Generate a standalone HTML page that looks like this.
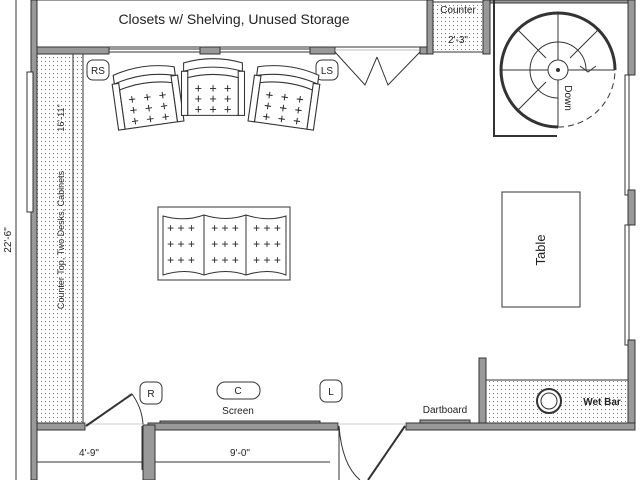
<!DOCTYPE html>
<html><head><style>body{margin:0;background:#fff}svg{display:block}text{font-family:"Liberation Sans",sans-serif;fill:#222}</style></head><body>
<svg width="640" height="480" viewBox="0 0 640 480" xmlns="http://www.w3.org/2000/svg">
<defs>
<pattern id="dots" width="4" height="4" patternUnits="userSpaceOnUse"><rect width="4" height="4" fill="#fff"/><rect x="1" y="1" width="1" height="1" fill="#777"/></pattern>
<g id="chair">
<path d="M-28,-22 Q0,-30 28,-22 L28,-14 Q0,-22 -28,-14Z" fill="#fff" stroke="#333"/>
<rect x="-30" y="-14" width="6" height="42" fill="#fff" stroke="#333"/>
<rect x="24" y="-14" width="6" height="42" fill="#fff" stroke="#333"/>
<path d="M-24,-8 Q0,-14 24,-8 L24,28 L-24,28Z" fill="#fff" stroke="#333"/>
<g font-size="12" text-anchor="middle">
<text x="-14" y="6">+</text><text x="0" y="6">+</text><text x="14" y="6">+</text>
<text x="-14" y="16">+</text><text x="0" y="16">+</text><text x="14" y="16">+</text>
<text x="-14" y="26">+</text><text x="0" y="26">+</text><text x="14" y="26">+</text>
</g>
</g>
</defs>
<g stroke="#333" stroke-width="1">
<line x1="16" y1="0" x2="16" y2="480"/>
<rect x="31" y="0" width="6" height="480" fill="#999"/>
<rect x="37" y="0" width="390" height="47" fill="#fff"/>
<rect x="37" y="47" width="72" height="7" fill="#999"/>
<rect x="109" y="49" width="220" height="3" fill="#fff"/>
<rect x="200" y="47" width="20" height="7" fill="#999"/>
<rect x="310" y="47" width="25" height="7" fill="#999"/>
<line x1="335" y1="50" x2="420" y2="50" stroke="#bbb"/>
<rect x="420" y="47" width="13" height="7" fill="#999"/>
<polyline points="335,52 365,85 377,57" fill="none"/>
<polyline points="420,52 388,85 377,57" fill="none"/>
<rect x="427" y="0" width="6" height="54" fill="#999"/>
<rect x="433" y="2" width="50" height="50" fill="url(#dots)"/>
<rect x="483" y="0" width="7" height="54" fill="#999"/>
<rect x="490" y="0" width="140" height="3" fill="#999"/>
<rect x="628" y="0" width="7" height="75" fill="#999"/>
<rect x="625" y="75" width="4" height="120" fill="#fff"/>
<rect x="628" y="190" width="7" height="35" fill="#999"/>
<rect x="625" y="225" width="4" height="120" fill="#fff"/>
<rect x="628" y="340" width="7" height="90" fill="#999"/>
<polyline points="494,0 494,136 557,136" fill="none" stroke-width="2"/>
<circle cx="558" cy="70" r="57" fill="none" stroke-width="3"/>
<path d="M558,127 A57,57 0 0 0 615,70" fill="none" stroke="#fff" stroke-width="5"/>
<path d="M558,127 A57,57 0 0 0 615,70" fill="none" stroke-dasharray="6,4"/>
<circle cx="558" cy="70" r="28" fill="none"/>
<path d="M558,98 A28,28 0 0 0 586,70" fill="none" stroke="#fff" stroke-width="3"/>
<line x1="501" y1="70" x2="615" y2="70"/><line x1="558" y1="13" x2="558" y2="127"/>
<line x1="518" y1="30" x2="546" y2="58"/><line x1="598" y1="30" x2="570" y2="58"/><line x1="518" y1="110" x2="546" y2="82"/>
<circle cx="558" cy="70" r="10" fill="#fff"/><circle cx="558" cy="70" r="1.5" fill="#333"/>
<polyline points="580,66 588,72 596,66" fill="none"/>
<rect x="502" y="192" width="78" height="115" fill="#fff"/>
<rect x="486" y="380" width="142" height="43" fill="url(#dots)"/>
<rect x="479" y="358" width="7" height="67" fill="#999"/>
<circle cx="549" cy="401" r="12" fill="#fff" stroke-width="2"/>
<circle cx="549" cy="401" r="8" fill="none"/>
<rect x="406" y="423" width="229" height="7" fill="#999"/>
<rect x="420" y="420" width="50" height="3" fill="#999"/>
<rect x="148" y="423" width="190" height="7" fill="#999"/>
<rect x="160" y="421" width="160" height="2" fill="#999"/>
<line x1="338" y1="424" x2="406" y2="424" stroke="#ccc"/>
<rect x="37" y="423" width="48" height="7" fill="#999"/>
<rect x="143" y="425" width="12" height="55" fill="#999"/>
<line x1="85" y1="424" x2="143" y2="424" stroke="#ccc"/>
<line x1="86" y1="426" x2="132" y2="394" stroke-width="2"/>
<path d="M132,394 A58,58 0 0 1 143,424" fill="none"/>
<line x1="142" y1="426" x2="142" y2="470"/>
<line x1="405" y1="426" x2="368" y2="480" stroke-width="2"/>
<path d="M339,426 Q342,465 360,480" fill="none"/>
<line x1="339" y1="426" x2="339" y2="480"/>
<rect x="37" y="54" width="46" height="369" fill="url(#dots)"/>
<line x1="73" y1="54" x2="73" y2="423"/>
<rect x="27" y="72" width="6" height="140" fill="#fff"/>
<line x1="37" y1="462" x2="143" y2="462"/>
<line x1="155" y1="462" x2="330" y2="462"/>
<rect x="158" y="207" width="132" height="73" fill="#fff"/>
<path d="M163,216 Q185,222 204,215 Q226,222 246,215 Q268,222 286,216 L286,275 Q268,268 246,275 Q226,268 204,275 Q185,268 163,275Z" fill="#fff"/>
<line x1="204" y1="215" x2="204" y2="275"/><line x1="246" y1="215" x2="246" y2="275"/>
<rect x="87" y="60" width="22" height="20" rx="6" fill="#fff"/>
<rect x="316" y="60" width="22" height="20" rx="6" fill="#fff"/>
<rect x="140" y="382" width="22" height="22" rx="6" fill="#fff"/>
<rect x="217" y="382" width="43" height="17" rx="8" fill="#fff"/>
<rect x="320" y="380" width="22" height="22" rx="6" fill="#fff"/>
</g>
<use href="#chair" transform="translate(147,95) rotate(-8) scale(1.1)"/>
<use href="#chair" transform="translate(213,86) scale(1.05)"/>
<use href="#chair" transform="translate(285,95) rotate(8) scale(1.1)"/>
<g font-size="12" text-anchor="middle">
<text x="181" y="232">+ + +</text><text x="181" y="248">+ + +</text><text x="181" y="264">+ + +</text>
<text x="225" y="232">+ + +</text><text x="225" y="248">+ + +</text><text x="225" y="264">+ + +</text>
<text x="267" y="232">+ + +</text><text x="267" y="248">+ + +</text><text x="267" y="264">+ + +</text>
</g>
<text x="234" y="24" font-size="14" text-anchor="middle">Closets w/ Shelving,  Unused Storage</text>
<text x="458" y="13" font-size="10" text-anchor="middle">Counter</text>
<text x="458" y="43" font-size="10" text-anchor="middle">2'-3"</text>
<text x="98" y="74" font-size="10" text-anchor="middle">RS</text>
<text x="327" y="74" font-size="10" text-anchor="middle">LS</text>
<text x="151" y="397" font-size="10" text-anchor="middle">R</text>
<text x="238" y="394" font-size="10" text-anchor="middle">C</text>
<text x="331" y="395" font-size="10" text-anchor="middle">L</text>
<text x="238" y="414" font-size="10" text-anchor="middle">Screen</text>
<text x="445" y="413" font-size="10" text-anchor="middle">Dartboard</text>
<text x="602" y="405" font-size="10" font-weight="bold" text-anchor="middle">Wet Bar</text>
<text x="89" y="456" font-size="10" text-anchor="middle">4'-9"</text>
<text x="240" y="456" font-size="10" text-anchor="middle">9'-0"</text>
<text transform="translate(545,250) rotate(-90)" font-size="13" text-anchor="middle">Table</text>
<text transform="translate(565,98) rotate(90)" font-size="10" text-anchor="middle">Down</text>
<text transform="translate(64,240) rotate(-90)" font-size="9" text-anchor="middle">Counter Top, Two Desks, Cabinets</text>
<text transform="translate(64,118) rotate(-90)" font-size="9" text-anchor="middle">16'-11"</text>
<text transform="translate(11,240) rotate(-90)" font-size="10" text-anchor="middle">22'-6"</text>
</svg>
</body></html>
